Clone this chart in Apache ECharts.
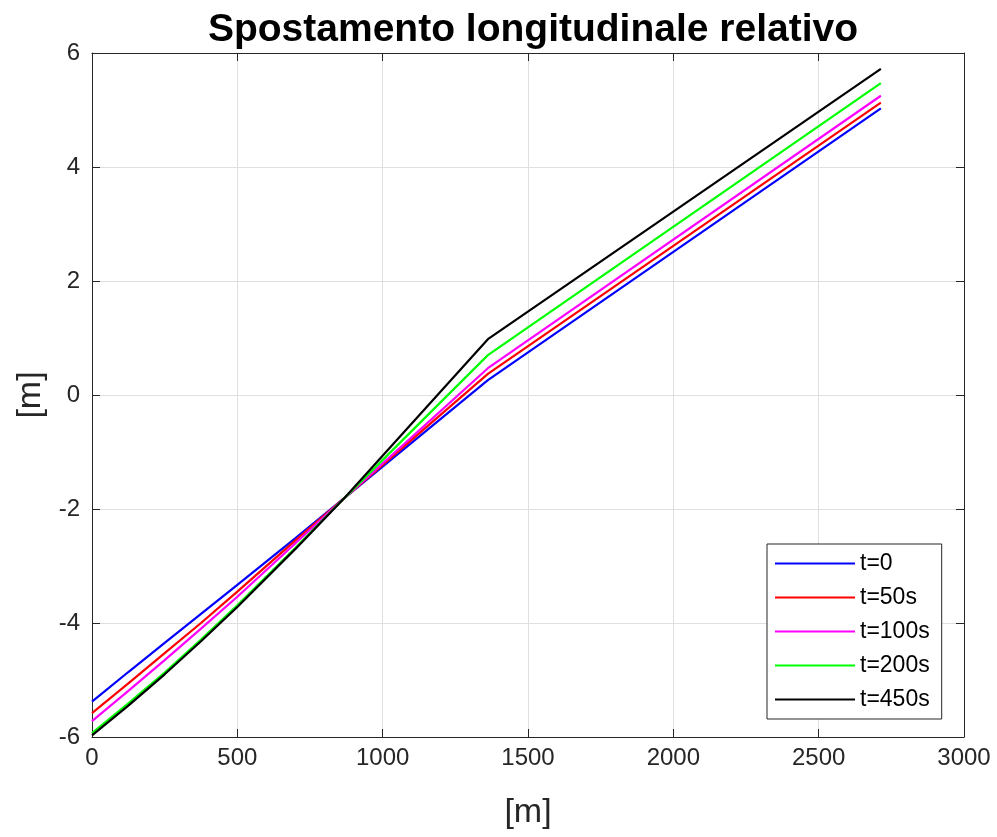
<!DOCTYPE html>
<html>
<head>
<meta charset="utf-8">
<script src="https://cdn.jsdelivr.net/npm/echarts@6/dist/echarts.min.js"></script>
<style>
html,body{margin:0;padding:0;background:#fff;}
#chart{width:997px;height:837px;}
</style>
</head>
<body>
<div id="chart"></div>
<script>
// distance along the axis [m]
var xs = [0, 125, 250, 375, 500, 700, 870, 1362, 2714];
// relative longitudinal displacement [m]
var t0    = [-5.38, -4.86, -4.35, -3.84, -3.33, -2.51, -1.80, 0.26, 5.03];
var t50   = [-5.58, -5.06, -4.53, -4.00, -3.45, -2.55, -1.80, 0.37, 5.13];
var t100  = [-5.72, -5.19, -4.65, -4.10, -3.54, -2.60, -1.80, 0.47, 5.25];
var t200  = [-5.93, -5.41, -4.87, -4.29, -3.69, -2.68, -1.80, 0.70, 5.47];
var t450  = [-5.97, -5.45, -4.90, -4.32, -3.72, -2.70, -1.80, 0.98, 5.72];
var seriesNames = ['t=0', 't=50s', 't=100s', 't=200s', 't=450s'];
var seriesColors = ['#0000ff', '#ff0000', '#ff00ff', '#00ff00', '#000000'];
var xTicks = [0, 500, 1000, 1500, 2000, 2500, 3000];
var yTicks = [-6, -4, -2, 0, 2, 4, 6];

function pairs(ys){ return xs.map(function(x,i){ return [x, ys[i]]; }); }
var allY = [t0, t50, t100, t200, t450];

var font = 'Liberation Sans, Arial, Helvetica, sans-serif';
var axisCol = '#262626';

var chart = echarts.init(document.getElementById('chart'), null, {renderer:'canvas'});
var option = {
  backgroundColor: '#ffffff',
  animation: false,
  title: {
    text: 'Spostamento longitudinale relativo',
    left: 528, top: 6, textAlign: 'center',
    textStyle: {fontFamily: font, fontSize: 39, fontWeight: 'bold', color: '#000'}
  },
  grid: {left: 92, right: 33, top: 53, bottom: 100, containLabel: false},
  xAxis: [{
    type: 'value', min: xTicks[0], max: xTicks[xTicks.length-1], interval: 500,
    name: '[m]', nameLocation: 'middle', nameGap: 59,
    nameTextStyle: {fontFamily: font, fontSize: 34, color: axisCol},
    axisLine: {show: true, onZero: false, lineStyle: {color: axisCol, width: 1}},
    axisTick: {show: true, inside: true, length: 8, lineStyle: {color: axisCol}},
    axisLabel: {fontFamily: font, fontSize: 24, color: axisCol, margin: 9,
      formatter: function(v){ return String(v); }},
    splitLine: {show: true, lineStyle: {color: '#dfdfdf', width: 1}}
  }, {
    type: 'value', position: 'top', min: xTicks[0], max: xTicks[xTicks.length-1], interval: 500,
    axisLine: {show: true, onZero: false, lineStyle: {color: axisCol, width: 1}},
    axisTick: {show: true, inside: true, length: 8, lineStyle: {color: axisCol}},
    axisLabel: {show: false}, splitLine: {show: false}
  }],
  yAxis: [{
    type: 'value', min: yTicks[0], max: yTicks[yTicks.length-1], interval: 2,
    name: '[m]', nameLocation: 'middle', nameGap: 40, nameRotate: 90,
    nameTextStyle: {fontFamily: font, fontSize: 34, color: axisCol},
    axisLine: {show: true, onZero: false, lineStyle: {color: axisCol, width: 1}},
    axisTick: {show: true, inside: true, length: 8, lineStyle: {color: axisCol}},
    axisLabel: {fontFamily: font, fontSize: 24, color: axisCol, margin: 12},
    splitLine: {show: true, lineStyle: {color: '#dfdfdf', width: 1}}
  }, {
    type: 'value', position: 'right', min: yTicks[0], max: yTicks[yTicks.length-1], interval: 2,
    axisLine: {show: true, onZero: false, lineStyle: {color: axisCol, width: 1}},
    axisTick: {show: true, inside: true, length: 8, lineStyle: {color: axisCol}},
    axisLabel: {show: false}, splitLine: {show: false}
  }],
  legend: {
    orient: 'vertical', left: 767, top: 544,
    backgroundColor: '#ffffff', borderColor: axisCol, borderWidth: 1, borderRadius: 0,
    padding: [8, 12, 8, 8], itemGap: 11, itemWidth: 80, itemHeight: 2, itemTextGap: 7,
    icon: 'rect',
    textStyle: {fontFamily: font, fontSize: 23, color: '#000', lineHeight: 22},
    data: seriesNames
  },
  series: allY.map(function(ys, i){
    return {
      name: seriesNames[i], type: 'line', data: pairs(ys),
      showSymbol: false, symbol: 'none', smooth: false,
      lineStyle: {color: seriesColors[i], width: 2.2},
      itemStyle: {color: seriesColors[i]},
      z: 2 + i
    };
  })
};
chart.setOption(option);
</script>
</body>
</html>
